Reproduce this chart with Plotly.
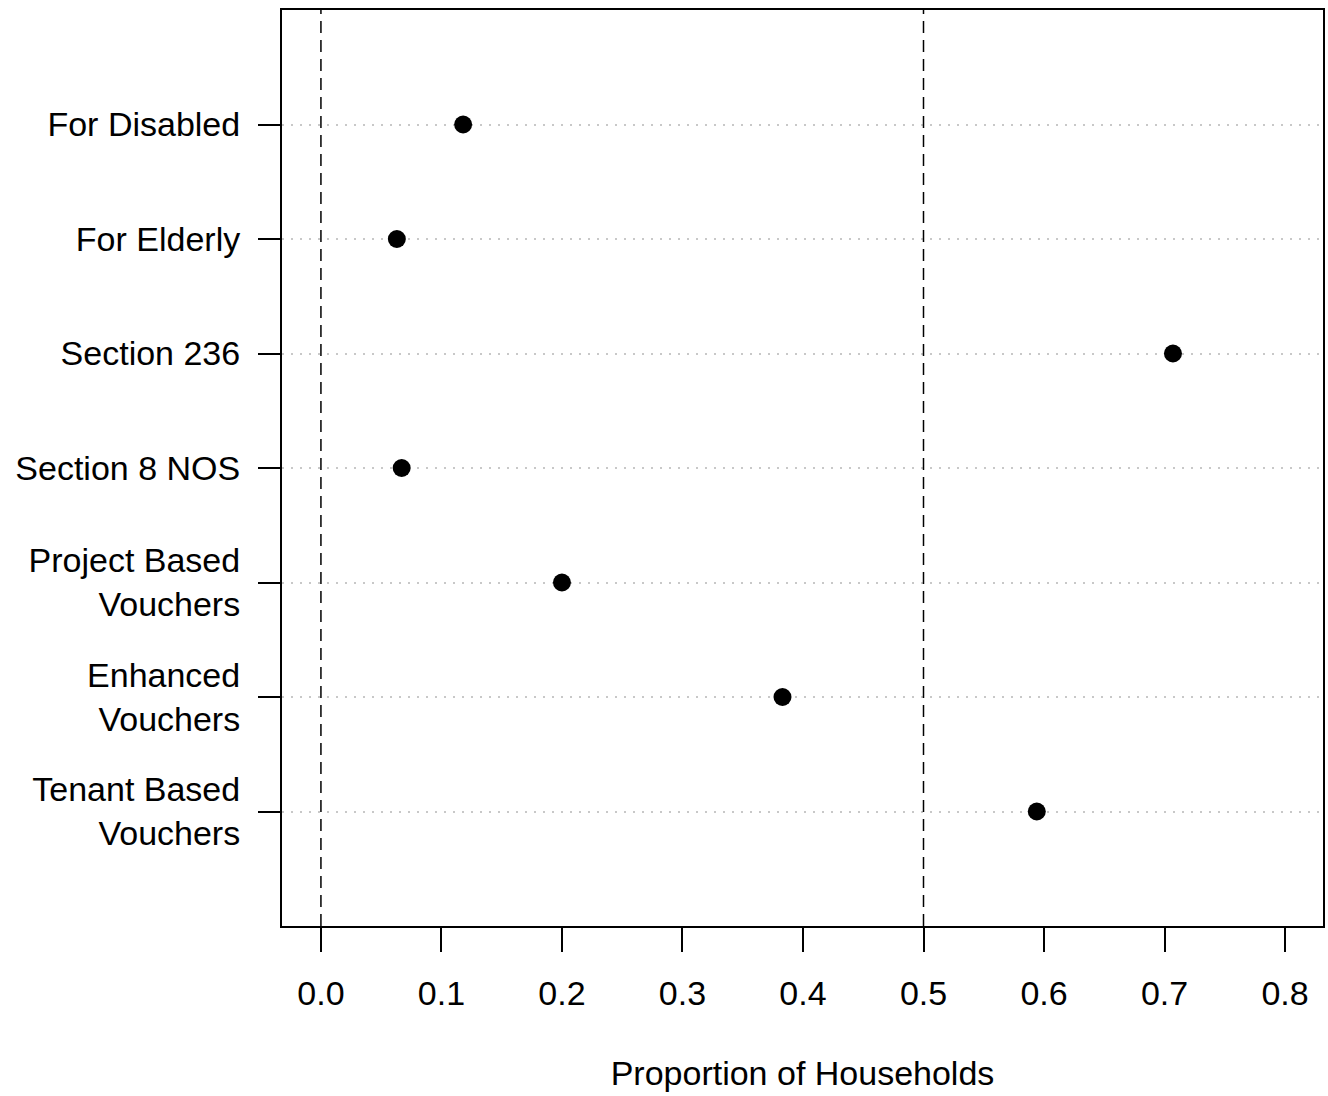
import plotly.graph_objects as go

categories = ["Tenant Based<br>Vouchers", "Enhanced<br>Vouchers", "Project Based<br>Vouchers",
              "Section 8 NOS", "Section 236", "For Elderly", "For Disabled"]
proportions = [0.594, 0.383, 0.200, 0.067, 0.707, 0.063, 0.118]
positions = [1, 2, 3, 4, 5, 6, 7]
x_ticks = [0.0, 0.1, 0.2, 0.3, 0.4, 0.5, 0.6, 0.7, 0.8]
ref_lines = [0.0, 0.5]

FONT = "Liberation Sans, Arial, sans-serif"

fig = go.Figure()
fig.add_trace(go.Scatter(
    x=proportions, y=positions, mode="markers",
    marker=dict(color="black", size=18, line=dict(width=0)),
    showlegend=False, hoverinfo="skip"))

for v in ref_lines:
    fig.add_shape(type="line", xref="x", yref="paper", x0=v, x1=v, y0=0, y1=1,
                  line=dict(color="black", width=1.5, dash="12px,7px"))

fig.update_layout(
    width=1328, height=1096,
    margin=dict(l=282, r=3, t=10, b=170),
    paper_bgcolor="white", plot_bgcolor="white",
    font=dict(family=FONT, size=34, color="black"),
)
fig.update_xaxes(
    range=[-0.0323, 0.8315], tickvals=x_ticks, ticktext=[f"{t:.1f}" for t in x_ticks],
    showgrid=False, zeroline=False, showline=True, mirror=True, linecolor="black", linewidth=2,
    ticks="outside", ticklen=24, tickwidth=1.5, tickcolor="black",
    ticklabelstandoff=12,
    title=dict(text="Proportion of Households", standoff=50, font=dict(size=34)),
)
fig.update_yaxes(
    range=[0, 8], tickvals=positions, ticktext=categories,
    showgrid=True, gridcolor="#c8c8c8", gridwidth=1.5, griddash="2px,7px",
    zeroline=False, showline=True, mirror=True, linecolor="black", linewidth=2,
    ticks="outside", ticklen=22, tickwidth=1.5, tickcolor="black",
    ticklabelstandoff=11,
)

fig.write_html("out.html")
